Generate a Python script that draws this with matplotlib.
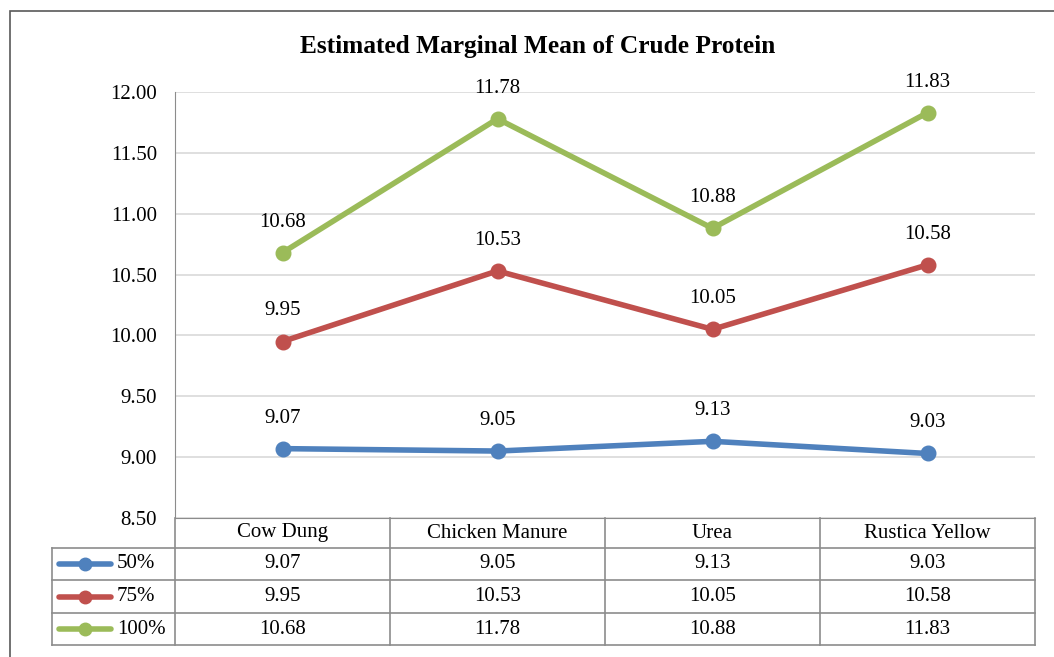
import matplotlib.pyplot as plt
from matplotlib.patches import Rectangle
from matplotlib.lines import Line2D

plt.rcParams['font.family'] = ['Liberation Serif', 'DejaVu Serif']

# ---------------- data
categories = ['Cow Dung', 'Chicken Manure', 'Urea', 'Rustica Yellow']
series_names = ['50%', '75%', '100%']
v50 = [9.07, 9.05, 9.13, 9.03]
v75 = [9.95, 10.53, 10.05, 10.58]
v100 = [10.68, 11.78, 10.88, 11.83]
colors = ['#4F81BD', '#C0504D', '#9BBB59']
yticks = [8.5, 9.0, 9.5, 10.0, 10.5, 11.0, 11.5, 12.0]

FS = 15
W, H = 1054, 657
fig = plt.figure(figsize=(W / 100, H / 100), dpi=100)

def fx(px):
    return px / W

def fy(py):
    return 1 - py / H

# outer chart border
fig.patches.append(Rectangle((fx(10), fy(700)), fx(1100), fy(11) - fy(700),
                             transform=fig.transFigure, fill=False,
                             edgecolor='#595959', lw=1.2))

L, R, T, B = 175, 1035, 92, 518
ax = fig.add_axes([fx(L), fy(B), fx(R - L), fy(T) - fy(B)])
ax.set_xlim(-0.5, 3.5)
ax.set_ylim(8.5, 12.0)
ax.set_yticks(yticks)
ax.set_yticklabels(['%.2f' % t for t in yticks], fontsize=FS)
ax.set_xticks([])
ax.grid(axis='y', color='#D9D9D9', lw=1.2)
ax.set_axisbelow(True)
for s in ['top', 'right']:
    ax.spines[s].set_visible(False)
for s in ['left', 'bottom']:
    ax.spines[s].set_color('#8C8C8C')
ax.tick_params(axis='y', length=0, pad=13)

x = list(range(len(categories)))
all_vals = [v50, v75, v100]
for vals, name, c in zip(all_vals, series_names, colors):
    ax.plot(x, vals, '-o', color=c, lw=4, ms=10.5, label=name, zorder=3)
    for xi, v in zip(x, vals):
        ax.annotate('%.2f' % v, (xi, v), xytext=(0, 22), textcoords='offset points',
                    ha='center', va='center', fontsize=FS)

fig.text(fx(538), fy(47), 'Estimated Marginal Mean of Crude Protein',
         ha='center', va='center', fontsize=18.3, fontweight='bold')

# ---------------- data table
gc = '#8C8C8C'
col_edges = [175, 390, 605, 820, 1035]
row_edges = [518, 548, 580, 613, 645]
leg_left = 52

def hline(y, x0, x1):
    fig.add_artist(Line2D([fx(x0), fx(x1)], [fy(y), fy(y)], transform=fig.transFigure,
                          color=gc, lw=1.2))

def vline(xp, y0, y1):
    fig.add_artist(Line2D([fx(xp), fx(xp)], [fy(y0), fy(y1)], transform=fig.transFigure,
                          color=gc, lw=1.2))

for ry in row_edges[1:]:
    hline(ry, leg_left, col_edges[-1])
for cx in col_edges:
    vline(cx, row_edges[0], row_edges[-1])
vline(leg_left, row_edges[1], row_edges[-1])

for i, cat in enumerate(categories):
    cx = (col_edges[i] + col_edges[i + 1]) / 2
    fig.text(fx(cx), fy((row_edges[0] + row_edges[1]) / 2), cat,
             ha='center', va='center', fontsize=FS)

for r, (vals, name, c) in enumerate(zip(all_vals, series_names, colors)):
    cy = (row_edges[r + 1] + row_edges[r + 2]) / 2
    fig.add_artist(Line2D([fx(59), fx(111)], [fy(cy), fy(cy)], transform=fig.transFigure,
                          color=c, lw=4, solid_capstyle='round'))
    fig.add_artist(Line2D([fx(85)], [fy(cy)], transform=fig.transFigure,
                          color=c, marker='o', ms=9))
    fig.text(fx(117), fy(cy), name, ha='left', va='center', fontsize=FS)
    for i, v in enumerate(vals):
        cx = (col_edges[i] + col_edges[i + 1]) / 2
        fig.text(fx(cx), fy(cy), '%.2f' % v, ha='center', va='center', fontsize=FS)

fig.savefig('out.png', dpi=100)
